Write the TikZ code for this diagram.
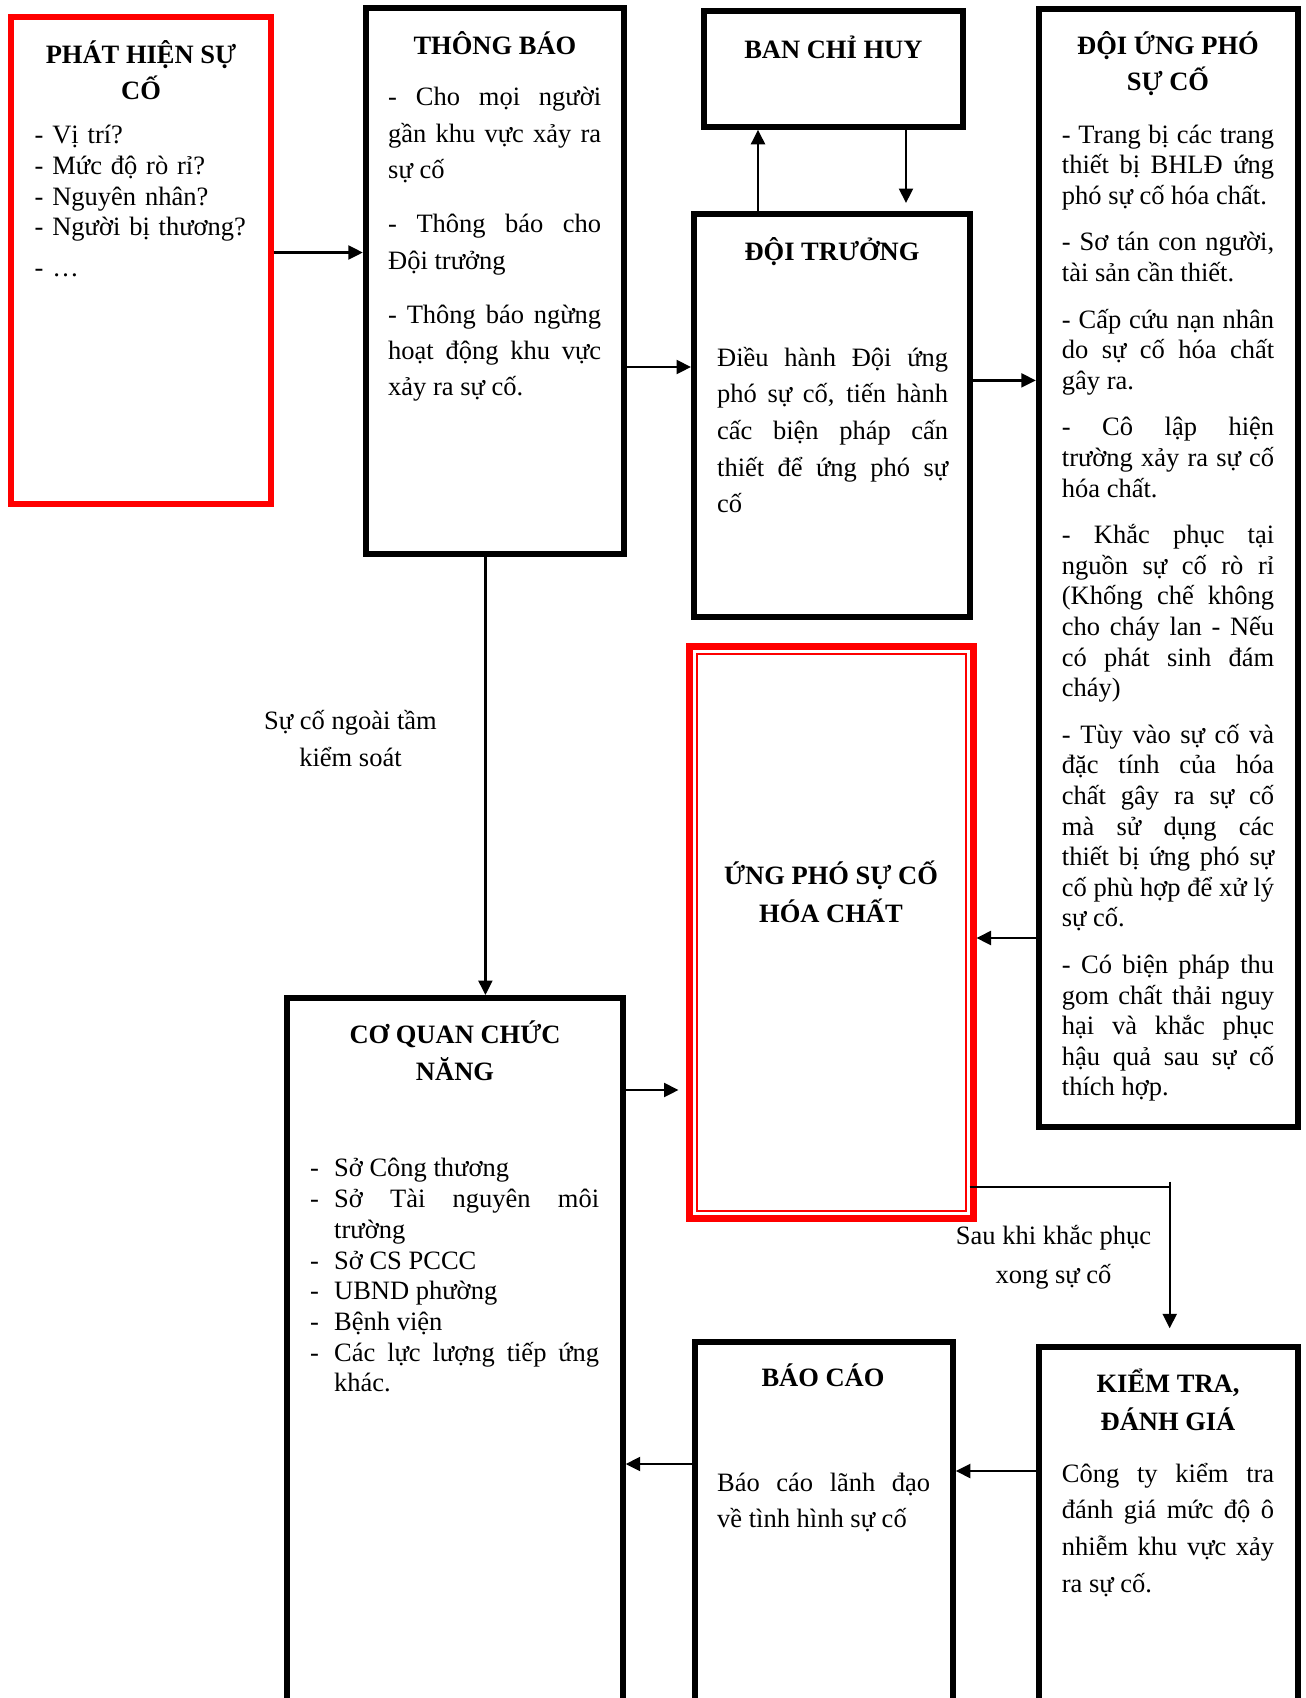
\documentclass[tikz,border=0pt]{standalone}
\usepackage{fontspec}
\setmainfont{Liberation Serif}
\usetikzlibrary{arrows.meta}
\hyphenpenalty=10000 \exhyphenpenalty=10000 \tolerance=10000 \emergencystretch=20pt \hbadness=10000
\newcommand\dashitem[1]{\par\hangindent=24pt\hangafter=1\noindent\makebox[24pt][l]{-}#1}
\newcommand\fsz[1]{\fontsize{26.5pt}{#1pt}\selectfont}
\newcommand\stx{\rule{0pt}{30pt}}
\begin{document}
\begin{tikzpicture}[x=1pt,y=-1pt,
  box/.style={draw,line width=6pt,inner sep=0pt,rectangle},
  redbox/.style={draw=red,line width=7pt,inner sep=0pt,rectangle},
  arr/.style={line width=2.2pt,-{Triangle[length=14.5pt,width=14pt]}},
  ln/.style={line width=2.2pt},
  txt/.style={anchor=north west,inner sep=0pt,yshift=30pt,text width=#1,align=justify},
  lst/.style={anchor=north west,inner sep=0pt,yshift=30pt,text width=#1,align=left},
  ttl/.style={anchor=north,inner sep=0pt,yshift=30pt,align=center},
  lbl/.style={anchor=north,inner sep=0pt,yshift=30pt,align=center}]
\path[use as bounding box] (0,0) rectangle (1306,1698);
\path[clip] (0,0) rectangle (1306,1698);
% boxes
\node[draw=red,line width=6pt,inner sep=0pt,minimum width=259.2pt,minimum height=486.7pt] (A) at (141,260.65) {};
\node[box,minimum width=258.2pt,minimum height=545.6pt] (B) at (494.9,281.2) {};
\node[box,minimum width=258.7pt,minimum height=115.6pt] (C) at (833.35,69) {};
\node[box,minimum width=276pt,minimum height=402.6pt] (D) at (832,415.3) {};
\node[box,minimum width=258.9pt,minimum height=1118pt] (E) at (1168.25,568) {};
\node[redbox,minimum width=284pt,minimum height=571.3pt] (F) at (831,932.35) {};
\draw[red,line width=2pt] ([shift={(11,11)}]F.north west) rectangle ([shift={(-11,-11)}]F.south east);
\node[box,minimum width=335.7pt,minimum height=762pt] (G) at (454.85,1379) {};
\node[box,minimum width=257.8pt,minimum height=418.3pt] (H) at (823.9,1550.85) {};
\node[box,minimum width=258.9pt,minimum height=412.7pt] (I) at (1168.25,1553.65) {};
% texts
\node[ttl,font=\fsz{36.2}\bfseries] (At) at (141,63.3) {\stx PHÁT HIỆN SỰ\\CỐ};
\node[lst=235pt,font=\fsz{30.9}] (Ax) at (34.5,143) {\stx - Vị trí?\\- Mức độ rò rỉ?\\- Nguyên nhân?\\- Người bị thương?\\[10pt]- …};
\node[ttl,font=\fsz{36.4}\bfseries] (Bt) at (494.9,54.3) {\stx THÔNG BÁO};
\node[txt=213pt,font=\fsz{36.4}] (Bx) at (388,105.5) {\setlength{\parskip}{17.7pt}\stx - Cho mọi người\linebreak gần khu vực xảy ra\linebreak sự cố\par - Thông báo cho\linebreak Đội trưởng\par - Thông báo ngừng\linebreak hoạt động khu vực\linebreak xảy ra sự cố.};
\node[ttl,font=\fsz{36.4}\bfseries] (Ct) at (833.35,58) {\stx BAN CHỈ HUY};
\node[ttl,font=\fsz{36.4}\bfseries] (Dt) at (832,260.5) {\stx ĐỘI TRƯỞNG};
\node[txt=231pt,font=\fsz{36.6}] (Dx) at (717,366) {\stx Điều hành Đội ứng\linebreak phó sự cố, tiến hành\linebreak cấc biện pháp cấn\linebreak thiết để ứng phó sự\linebreak cố};
\node[ttl,font=\fsz{36.5}\bfseries] (Et) at (1168,54) {\stx ĐỘI ỨNG PHÓ\\SỰ CỐ};
\node[txt=212.3pt,font=\fsz{30.6}] (Ex) at (1061.7,142.8) {\setlength{\parskip}{16pt}\stx - Trang bị các trang\linebreak thiết bị BHLĐ ứng\linebreak phó sự cố hóa chất.\par - Sơ tán con người,\linebreak tài sản cần thiết.\par - Cấp cứu nạn nhân\linebreak do sự cố hóa chất\linebreak gây ra.\par - Cô lập hiện\linebreak trường xảy ra sự cố\linebreak hóa chất.\par - Khắc phục tại\linebreak nguồn sự cố rò rỉ\linebreak (Khống chế không\linebreak cho cháy lan - Nếu\linebreak có phát sinh đám\linebreak cháy)\par - Tùy vào sự cố và\linebreak đặc tính của hóa\linebreak chất gây ra sự cố\linebreak mà sử dụng các\linebreak thiết bị ứng phó sự\linebreak cố phù hợp để xử lý\linebreak sự cố.\par - Có biện pháp thu\linebreak gom chất thải nguy\linebreak hại và khắc phục\linebreak hậu quả sau sự cố\linebreak thích hợp.};
\node[ttl,font=\fsz{37.5}\bfseries] (Ft) at (831,884.3) {\stx ỨNG PHÓ SỰ CỐ\\HÓA CHẤT};
\node[ttl,font=\fsz{37}\bfseries] (Gt) at (455,1043.5) {\stx CƠ QUAN CHỨC\\NĂNG};
\node[txt=289pt,font=\fsz{30.7}] (Gx) at (310,1176) {\dashitem{\stx Sở Công thương}\dashitem{Sở Tài nguyên môi\linebreak trường}\dashitem{Sở CS PCCC}\dashitem{UBND phường}\dashitem{Bệnh viện}\dashitem{Các lực lượng tiếp ứng\linebreak khác.}\par};
\node[ttl,font=\fsz{36.4}\bfseries] (Ht) at (823,1386) {\stx BÁO CÁO};
\node[txt=213pt,font=\fsz{36}] (Hx) at (717,1491.7) {\stx Báo cáo lãnh đạo\linebreak về tình hình sự cố};
\node[ttl,font=\fsz{37.5}\bfseries] (It) at (1168,1392.5) {\stx KIỂM TRA,\\ĐÁNH GIÁ};
\node[txt=212.3pt,font=\fsz{36.7}] (Ix) at (1061.7,1482) {\stx Công ty kiểm tra\linebreak đánh giá mức độ ô\linebreak nhiễm khu vực xảy\linebreak ra sự cố.};
% connectors
\draw[arr] (A.east |- 0,252.5) -- (B.west |- 0,252.5);
\draw[arr] (B.east |- 0,367) -- (D.west |- 0,367);
\draw[arr] (D.north -| 758,0) -- (C.south -| 758,0);
\draw[arr,shorten >=8pt] (C.south -| 906,0) -- (D.north -| 906,0);
\draw[arr] (D.east |- 0,380.4) -- (E.west |- 0,380.4);
\draw[arr] (E.west |- 0,938) -- (F.east |- 0,938);
\draw[arr] (B.south -| 485.4,0) -- (G.north -| 485.4,0);
\node[lbl,font=\fsz{37}] (L1) at (350.5,729) {\stx Sự cố ngoài tầm\\kiểm soát};
\draw[arr,shorten >=7pt] (G.east |- 0,1090) -- (F.west |- 0,1090);
\coordinate (turn) at (1169.7,1186.7);
\coordinate (turntop) at (1169.7,1181.5);
\draw[ln] ([xshift=-7pt]F.east |- turn) -- (turn);
\draw[arr,shorten >=16pt] (turntop) -- (I.north -| turn);
\node[lbl,font=\fsz{38.4}] (L2) at (1053.5,1244.4) {\stx Sau khi khắc phục\\xong sự cố};
\draw[arr] (I.west |- 0,1471) -- (H.east |- 0,1471);
\draw[arr] (H.west |- 0,1464) -- (G.east |- 0,1464);
\end{tikzpicture}
\end{document}
